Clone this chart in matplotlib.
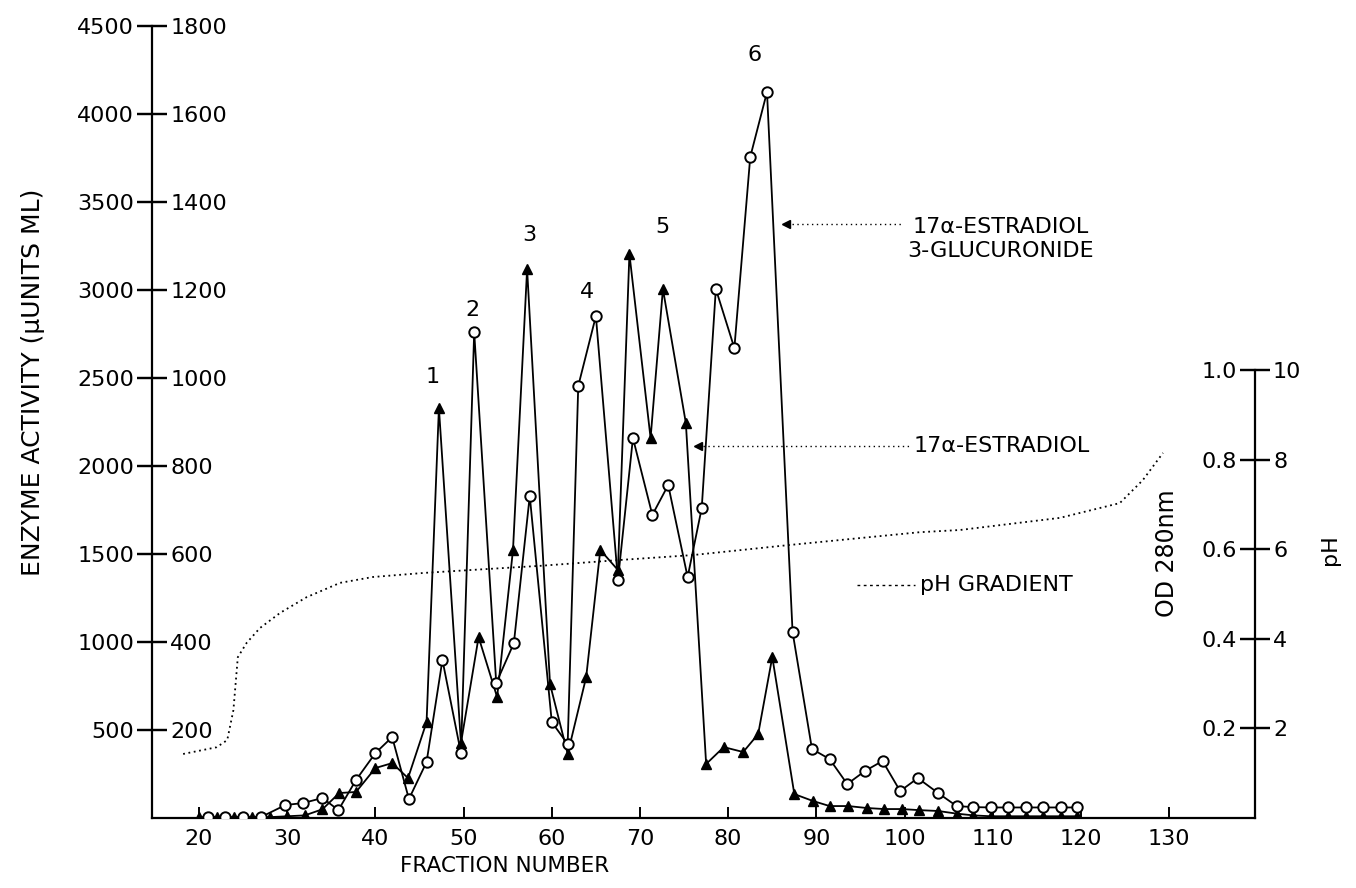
import numpy as np
import matplotlib.pyplot as plt

# =========================
# data
# =========================
# 17a-estradiol 3-glucuronide (open circles)
frac_gluc = [21, 23, 25, 27, 29.8, 31.8, 34, 35.8, 37.8, 40,
             41.9, 43.8, 45.8, 47.6, 49.7, 51.2, 53.7, 55.7, 57.5, 60,
             61.8, 63, 65, 67.5, 69.2, 71.4, 73.2, 75.4, 77, 78.6,
             80.7, 82.5, 84.4, 87.3, 89.5, 91.5, 93.5, 95.5, 97.5, 99.5,
             101.5, 103.8, 105.9, 107.8, 109.8, 111.7, 113.8, 115.7, 117.7, 119.5]
act_gluc = [5, 5, 5, 5, 74, 85, 114, 45, 216, 369,
            460, 108, 318, 898, 369, 2761, 767, 994, 1830, 545,
            420, 2455, 2852, 1352, 2159, 1722, 1892, 1369, 1761, 3006,
            2670, 3756, 4125, 1057, 392, 335, 193, 267, 324, 153,
            227, 142, 68, 62, 60, 60, 60, 60, 60, 60]

# 17a-estradiol (filled triangles)
frac_estr = [20, 22, 24, 26, 28, 30, 32, 34,
             35.9, 37.8, 40, 41.9, 43.7, 45.8, 47.2, 49.7, 51.7, 53.8,
             55.6, 57.2, 59.8, 61.8, 63.9, 65.5, 67.5, 68.8, 71.2, 72.6,
             75.2, 77.5, 79.5, 81.7, 83.4, 85, 87.5, 89.6, 91.5, 93.6,
             95.7, 97.7, 99.7, 101.6, 103.8, 105.9, 107.8, 109.8, 111.7, 113.8,
             115.7, 117.7, 119.5]
act_estr = [5, 5, 5, 5, 5, 10, 15, 50,
            142, 148, 284, 312, 227, 545, 2330, 426, 1028, 687,
            1523, 3119, 761, 364, 801, 1523, 1409, 3205, 2159, 3006,
            2244, 307, 403, 375, 477, 915, 136, 97, 68, 68,
            57, 51, 51, 45, 40, 25, 15, 10, 10, 10,
            10, 10, 10]

# pH gradient (dotted curve)
frac_ph = [18.2, 22.0, 23.2, 23.9, 24.4, 25.4, 26.9, 29.2, 32.2, 36.0, 39.7,
           45.4, 51.1, 58.7, 67.7, 76.0, 86.7, 101.7, 106.3, 117.6, 124.4, 127.0, 129.3]
ph_vals = [1.43, 1.58, 1.74, 2.41, 3.59, 3.91, 4.24, 4.58, 4.93, 5.25, 5.38,
           5.47, 5.54, 5.63, 5.76, 5.87, 6.09, 6.38, 6.43, 6.70, 7.03, 7.54, 8.15]

x_ticks = [20, 30, 40, 50, 60, 70, 80, 90, 100, 110, 120, 130]
act_ticks = [500, 1000, 1500, 2000, 2500, 3000, 3500, 4000, 4500]
act2_ticks = [200, 400, 600, 800, 1000, 1200, 1400, 1600, 1800]
od_ticks = [0.2, 0.4, 0.6, 0.8, 1.0]
od_labels = ['0.2', '0.4', '0.6', '0.8', '1.0']
ph_ticks = [2, 4, 6, 8, 10]

peak_names = ['1', '2', '3', '4', '5', '6']
peak_x = [46.5, 51.0, 57.4, 64.0, 72.6, 83.0]
peak_y = [2506, 2886, 3313, 2989, 3358, 4335]

plt.rcParams['font.family'] = ['DejaVu Sans']

fig = plt.figure(figsize=(13.56, 8.88), dpi=100)
ax = fig.add_axes([0.1121, 0.0788, 0.8134, 0.8919])
ax.set_xlim(14.67, 139.73)
ax.set_ylim(0, 4500)

# =========================
# series
# =========================
ax.plot(frac_estr, act_estr, color='black', lw=1.3, marker='^', ms=7,
        mfc='black', mec='black', zorder=3)
ax.plot(frac_gluc, act_gluc, color='black', lw=1.3, marker='o', ms=7.5,
        mfc='white', mec='black', mew=1.4, zorder=4)

# =========================
# axes styling
# =========================
for s in ['top', 'right']:
    ax.spines[s].set_visible(False)
ax.spines['left'].set_linewidth(1.6)
ax.spines['bottom'].set_linewidth(1.6)
ax.set_xticks(x_ticks)
ax.tick_params(axis='x', direction='in', length=8, width=1.4, labelsize=16, pad=8)
ax.set_yticks(act_ticks)
ax.tick_params(axis='y', direction='inout', length=22, width=1.6, labelsize=16, pad=2)

# second scale on the left spine (labels right of it)
ax_l2 = ax.twinx()
ax_l2.set_ylim(0, 1800)
for s in ['top', 'left', 'bottom', 'right']:
    ax_l2.spines[s].set_visible(False)
ax_l2.spines['right'].set_position(('axes', 0))
ax_l2.set_yticks(act2_ticks)
ax_l2.tick_params(axis='y', direction='inout', length=22, width=1.6, labelsize=16, pad=2)

# OD axis (labels left of the right spine)
ax_od = ax.twinx()
ax_od.set_ylim(0, 1.768)
for s in ['top', 'right', 'bottom']:
    ax_od.spines[s].set_visible(False)
ax_od.yaxis.tick_left()
ax_od.spines['left'].set_position(('axes', 1))
ax_od.spines['left'].set_bounds(0, 1.0)
ax_od.spines['left'].set_linewidth(1.6)
ax_od.set_yticks(od_ticks)
ax_od.set_yticklabels(od_labels)
ax_od.tick_params(axis='y', direction='inout', length=22, width=1.6, labelsize=16, pad=2)

# pH axis
ax_ph = ax.twinx()
ax_ph.set_ylim(0, 17.68)
for s in ['top', 'left', 'bottom', 'right']:
    ax_ph.spines[s].set_visible(False)
ax_ph.set_yticks(ph_ticks)
ax_ph.tick_params(axis='y', direction='inout', length=22, width=1.6, labelsize=16, pad=2)
ax_ph.plot(frac_ph, ph_vals, color='black', lw=1.3, ls=(0, (1, 2)))

# =========================
# labels / annotations
# =========================
for name, px, py in zip(peak_names, peak_x, peak_y):
    ax.text(px, py, name, fontsize=16, ha='center', va='center')

# 17a-estradiol 3-glucuronide
ax.plot([87.2, 99.8], [3375, 3375], color='black', lw=1.0, ls=(0, (1, 2.5)))
ax.plot(86.6, 3375, marker='<', ms=6, color='black')
ax.text(100.3, 3290, '17\u03b1-ESTRADIOL\n3-GLUCURONIDE', fontsize=16,
        ha='left', va='center', multialignment='center', linespacing=1.25)

# 17a-estradiol
ax.plot([77.2, 100.5], [2114, 2114], color='black', lw=1.0, ls=(0, (1, 2.5)))
ax.plot(76.6, 2114, marker='<', ms=6, color='black')
ax.text(101.0, 2114, '17\u03b1-ESTRADIOL', fontsize=16, ha='left', va='center')

# pH gradient
ax.plot([94.6, 101.2], [1324, 1324], color='black', lw=1.0, ls=(0, (2, 2.5)))
ax.text(101.7, 1324, 'pH GRADIENT', fontsize=16, ha='left', va='center')

fig.text(0.0243, 0.570, 'ENZYME ACTIVITY (\u03bcUNITS ML)', rotation=90,
         fontsize=18, ha='center', va='center')
fig.text(0.3724, 0.0248, 'FRACTION NUMBER', fontsize=15.5, ha='center', va='center')
fig.text(0.8606, 0.377, 'OD 280nm', rotation=90, fontsize=17, ha='center', va='center')
fig.text(0.981, 0.381, 'pH', rotation=90, fontsize=16, ha='center', va='center')

fig.savefig('out.png', dpi=100)
